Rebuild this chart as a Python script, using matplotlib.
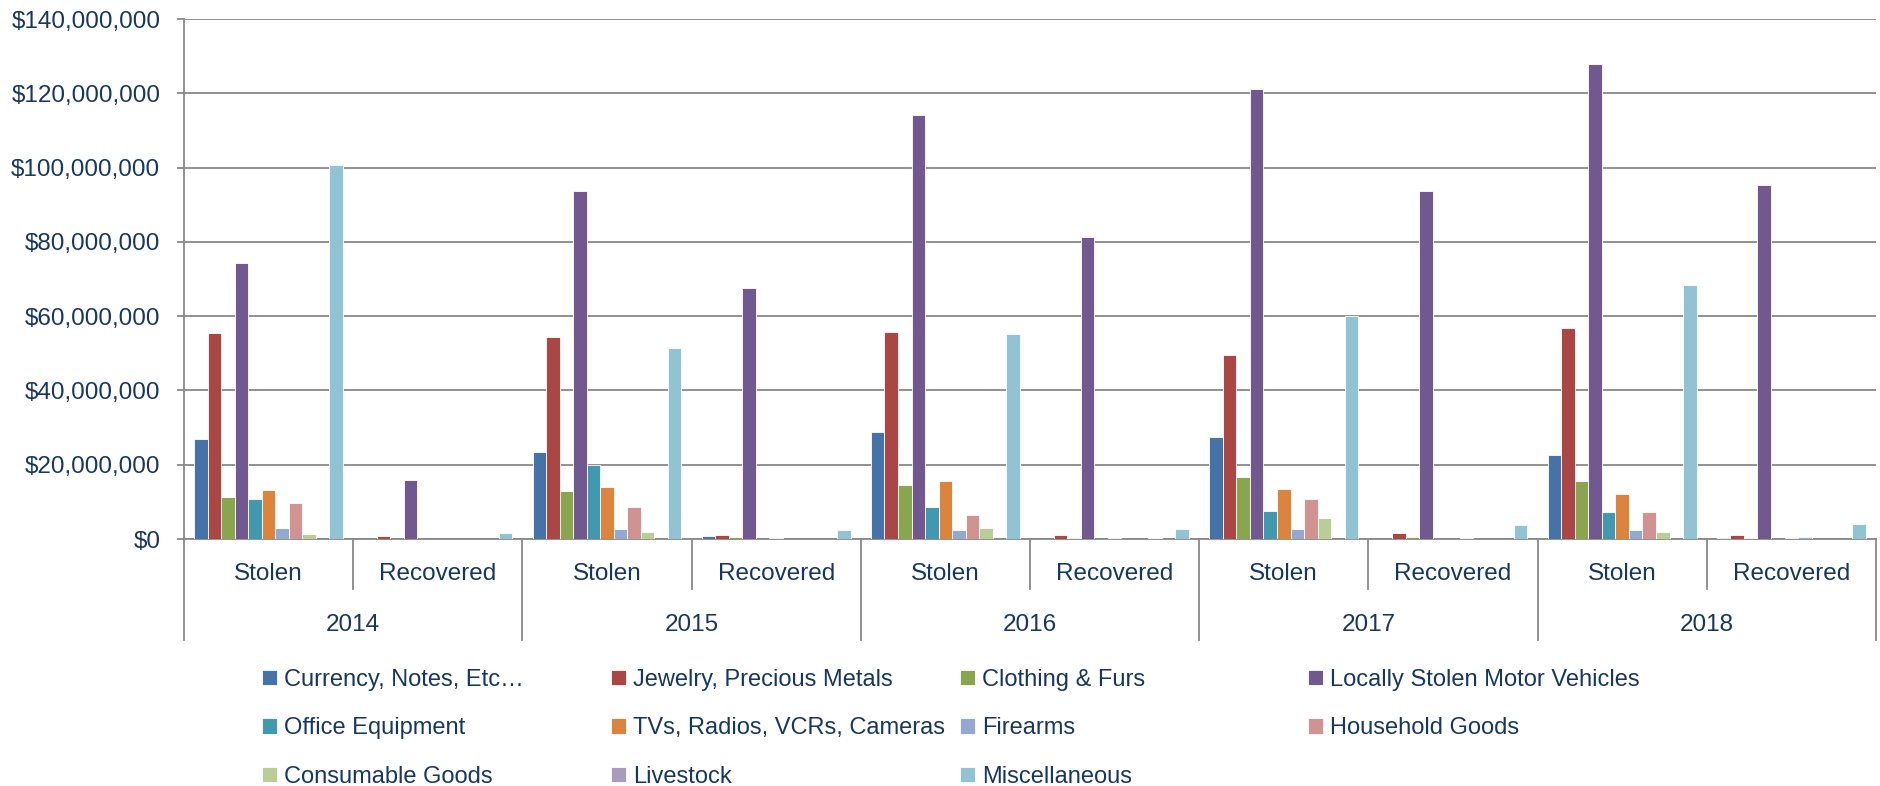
import numpy as np
import matplotlib.pyplot as plt
from matplotlib.ticker import FuncFormatter, MultipleLocator
import matplotlib.transforms as mtransforms

years = ["2014", "2015", "2016", "2017", "2018"]
kinds = ["Stolen", "Recovered"]

series = [
    "Currency, Notes, Etc\u2026", "Jewelry, Precious Metals", "Clothing & Furs",
    "Locally Stolen Motor Vehicles", "Office Equipment", "TVs, Radios, VCRs, Cameras",
    "Firearms", "Household Goods", "Consumable Goods", "Livestock", "Miscellaneous",
]
colors = ["#4572A7", "#AA4643", "#89A54E", "#71588F", "#4198AF", "#DB843D",
          "#93A9CF", "#D19392", "#B9CD96", "#A99BBD", "#92C3D4"]

# millions of dollars, order: 2014 Stolen, 2014 Recovered, 2015 Stolen, ...
currency = [26.8, 0.1, 23.3, 0.8, 28.8, 0.1, 27.5, 0.1, 22.6, 0.4]
jewelry = [55.5, 0.8, 54.5, 1.0, 55.8, 1.1, 49.6, 1.6, 56.7, 1.0]
clothing = [11.3, 0.1, 12.8, 0.5, 14.5, 0.4, 16.6, 0.5, 15.5, 0.4]
motor = [74.3, 15.9, 93.6, 67.6, 114.1, 81.4, 121.2, 93.8, 128.0, 95.2]
office = [10.8, 0.0, 20.0, 0.0, 8.5, 0.0, 7.5, 0.0, 7.3, 0.0]
tvs = [13.1, 0.1, 13.9, 0.4, 15.6, 0.4, 13.4, 0.1, 12.2, 0.2]
firearms = [2.9, 0.1, 2.7, 0.1, 2.5, 0.1, 2.8, 0.4, 2.5, 0.5]
household = [9.7, 0.0, 8.5, 0.1, 6.4, 0.1, 10.7, 0.1, 7.2, 0.1]
consumable = [1.4, 0.0, 1.9, 0.0, 2.9, 0.3, 5.6, 0.1, 1.8, 0.1]
livestock = [0.1, 0.0, 0.1, 0.0, 0.1, 0.0, 0.1, 0.0, 0.1, 0.0]
misc = [100.6, 1.6, 51.5, 2.3, 55.3, 2.7, 60.0, 3.7, 68.4, 4.0]

values = [currency, jewelry, clothing, motor, office, tvs,
          firearms, household, consumable, livestock, misc]

text_color = "#17375E"
grid_color = "#888888"
plt.rcParams["font.family"] = ["Liberation Sans", "DejaVu Sans"]
fs = 17.5
leg_fs = 17

fig = plt.figure(figsize=(18.81, 7.86), dpi=100)
ax = fig.add_axes([0.0978, 0.3142, 0.8995, 0.6616])

n_cat = len(years) * len(kinds)
x = np.arange(n_cat)
bar_w = 0.08
handles = []
for i, (name, vals, col) in enumerate(zip(series, values, colors)):
    offs = (i - (len(series) - 1) / 2) * bar_w
    b = ax.bar(x + offs, np.array(vals) * 1e6, width=bar_w, color=col,
               edgecolor="white", linewidth=0.6, label=name, zorder=3)
    handles.append(b)

ax.set_xlim(-0.5, n_cat - 0.5)
ax.set_ylim(0, 140e6)
ax.yaxis.set_major_locator(MultipleLocator(20e6))
ax.yaxis.set_major_formatter(FuncFormatter(lambda v, p: "${:,.0f}".format(v)))
ax.grid(axis="y", color=grid_color, linewidth=1.3, zorder=0)
ax.tick_params(axis="y", colors=grid_color, labelcolor=text_color,
               labelsize=fs, length=5, width=1.3, pad=12)
ax.set_xticks([])
for s in ["top", "right"]:
    ax.spines[s].set_visible(False)
for s in ["left", "bottom"]:
    ax.spines[s].set_color(grid_color)
    ax.spines[s].set_linewidth(1.3)

# two-level category axis
trans = mtransforms.blended_transform_factory(ax.transData, ax.transAxes)
for k in range(n_cat + 1):
    bottom = -0.194 if k % 2 == 0 else -0.096
    ax.plot([k - 0.5, k - 0.5], [0, bottom], transform=trans, color=grid_color,
            linewidth=1.3, clip_on=False)
for k in range(n_cat):
    ax.text(k, -0.067, kinds[k % 2], transform=trans, ha="center", va="center",
            fontsize=fs, color=text_color)
for j, yr in enumerate(years):
    ax.text(2 * j + 0.5, -0.166, yr, transform=trans, ha="center", va="center",
            fontsize=fs, color=text_color)

# legend laid out in 4 columns, filled row by row
col_x = [0.1393, 0.3248, 0.5104, 0.6954]
for c in range(4):
    idx = list(range(c, len(series), 4))
    leg = fig.legend([handles[i] for i in idx], [series[i] for i in idx],
                     loc="upper left", bbox_to_anchor=(col_x[c], 0.149),
                     frameon=False, fontsize=leg_fs, handlelength=0.64,
                     handleheight=0.64, handletextpad=0.3, labelspacing=1.12,
                     borderpad=0, borderaxespad=0)
    for t in leg.get_texts():
        t.set_color(text_color)

fig.savefig("out.png", dpi=100)
